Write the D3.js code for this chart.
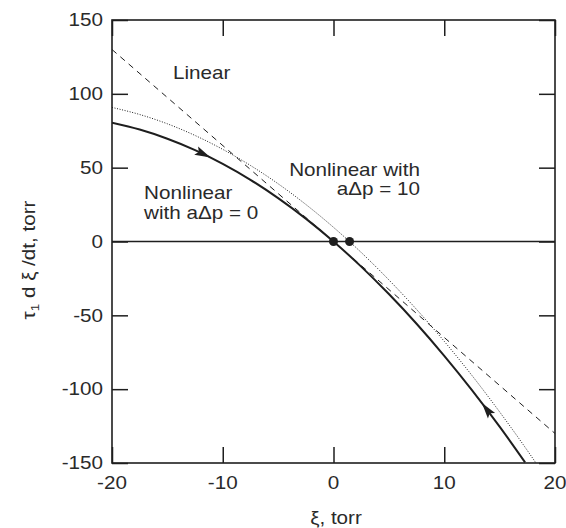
<!DOCTYPE html>
<html>
<head>
<meta charset="utf-8">
<script src="https://cdn.jsdelivr.net/npm/d3@7"></script>
<style>
  html, body { margin: 0; padding: 0; background: #fff; }
  svg { display: block; }
  text { font-family: "Liberation Sans", Arial, Helvetica, sans-serif; fill: #2a2a2a; }
</style>
</head>
<body>
<svg id="chart" width="566" height="528"></svg>
<script>
// ---- data ----
const xTicks = [-20, -10, 0, 10, 20];
const yTicks = [-150, -100, -50, 0, 50, 100, 150];

const linearX = [-20, 20];
const linearY = [130, -130];

const nonlin0X = [-20, -17.5, -15, -12.5, -10, -7.5, -5, -2.5, 0, 2.5, 5, 7.5, 10, 12.5, 15, 17.3];
const nonlin0Y = [80.4, 75.8, 69.6, 61.9, 52.6, 41.8, 29.4, 15.5, 0, -17.0, -35.6, -55.7, -77.4, -100.6, -125.4, -149.6];

const nonlin10X = [-20, -17.5, -15, -12.5, -10, -7.5, -5, -2.5, 0, 2.5, 5, 7.5, 10, 12.5, 15, 17.5, 18.3];
const nonlin10Y = [90.8, 86.0, 79.7, 71.8, 62.4, 51.5, 39.1, 25.1, 9.6, -7.4, -26.0, -46.0, -67.6, -90.7, -115.4, -141.5, -150.2];

const fixedPointX = [0, 1.45];
const fixedPointY = [0, 0];

const arrowX = [-11.1, 13.4];
const arrowDir = [1, -1];

const labels = [
  { lines: ["Linear"], x: -14.5, y: 110, anchor: "start" },
  { lines: ["Nonlinear", "with a\u0394p = 0"], x: -17.1, y: 28.5, anchor: "start" },
  { lines: ["Nonlinear with", "a\u0394p = 10"], x: 7.8, y: 44.5, anchor: "end" }
];

// ---- layout ----
const svg = d3.select("#chart");
const mL = 112, mR = 555, mT = 20, mB = 463;
const x = d3.scaleLinear().domain([-20, 20]).range([mL, mR]);
const y = d3.scaleLinear().domain([-150, 150]).range([mB, mT]);
const FS = 17.5, SX = 1.18;
const ink = "#1e1e1e";

svg.append("defs").append("clipPath").attr("id", "clip")
  .append("rect").attr("x", mL).attr("y", mT).attr("width", mR - mL).attr("height", mB - mT);

function styleAxis(g) {
  g.select(".domain").remove();
  g.selectAll(".tick line").attr("stroke", ink).attr("stroke-width", 1.5);
  g.selectAll(".tick text").remove();
}
const TL = 16;
svg.append("g").attr("transform", `translate(0,${mB})`).call(d3.axisBottom(x).tickValues(xTicks).tickSize(-TL)).call(styleAxis);
svg.append("g").attr("transform", `translate(0,${mT})`).call(d3.axisTop(x).tickValues(xTicks).tickSize(-TL)).call(styleAxis);
svg.append("g").attr("transform", `translate(${mL},0)`).call(d3.axisLeft(y).tickValues(yTicks).tickSize(-TL)).call(styleAxis);
svg.append("g").attr("transform", `translate(${mR},0)`).call(d3.axisRight(y).tickValues(yTicks).tickSize(-TL)).call(styleAxis);

// frame
svg.append("rect").attr("x", mL).attr("y", mT).attr("width", mR - mL).attr("height", mB - mT)
  .attr("fill", "none").attr("stroke", ink).attr("stroke-width", 1.6);

// stretched text helper
function sText(g, str, px, py, anchor, size) {
  return g.append("text")
    .attr("transform", `translate(${px},${py}) scale(${SX},1)`)
    .attr("text-anchor", anchor)
    .attr("font-size", size || FS)
    .text(str);
}

// tick labels
const tl = svg.append("g");
xTicks.forEach(v => sText(tl, v, x(v), mB + 26, "middle"));
yTicks.forEach(v => sText(tl, v, mL - 9, y(v) + 6.3, "end"));

// zero line
svg.append("line").attr("x1", mL).attr("x2", mR).attr("y1", y(0)).attr("y2", y(0))
  .attr("stroke", ink).attr("stroke-width", 1.5);

const plot = svg.append("g").attr("clip-path", "url(#clip)");
const line = d3.line().x(d => x(d[0])).y(d => y(d[1])).curve(d3.curveMonotoneX);

plot.append("path").datum(d3.zip(linearX, linearY)).attr("d", line)
  .attr("fill", "none").attr("stroke", ink).attr("stroke-width", 1).attr("stroke-dasharray", "6,5");
plot.append("path").datum(d3.zip(nonlin10X, nonlin10Y)).attr("d", line)
  .attr("fill", "none").attr("stroke", ink).attr("stroke-width", 1).attr("stroke-dasharray", "1,1.6");
const solid = plot.append("path").datum(d3.zip(nonlin0X, nonlin0Y)).attr("d", line)
  .attr("fill", "none").attr("stroke", ink).attr("stroke-width", 2);

// arrows on the solid curve
const node = solid.node();
const total = node.getTotalLength();
function lenAtX(px) {
  let lo = 0, hi = total;
  for (let i = 0; i < 40; i++) {
    const mid = (lo + hi) / 2;
    if (node.getPointAtLength(mid).x < px) lo = mid; else hi = mid;
  }
  return (lo + hi) / 2;
}
arrowX.forEach((ax, i) => {
  const L = lenAtX(x(ax));
  const tip = node.getPointAtLength(L);
  const back = node.getPointAtLength(L - arrowDir[i] * 16);
  const dx = tip.x - back.x, dy = tip.y - back.y, n = Math.hypot(dx, dy);
  const ux = dx / n, uy = dy / n;
  const hw = 4.5;
  const pts = [[tip.x, tip.y],
    [back.x - uy * hw, back.y + ux * hw],
    [back.x + ux * 3, back.y + uy * 3],
    [back.x + uy * hw, back.y - ux * hw]];
  plot.append("path").attr("d", "M" + pts.map(p => p.join(",")).join("L") + "Z").attr("fill", ink);
});

// fixed points
svg.selectAll("circle.fp").data(d3.zip(fixedPointX, fixedPointY)).join("circle")
  .attr("cx", d => x(d[0])).attr("cy", d => y(d[1])).attr("r", 4.5).attr("fill", ink);

// in-plot labels
labels.forEach(l => {
  l.lines.forEach((s, j) => sText(svg, s, x(l.x), y(l.y) + j * 19.3, l.anchor));
});

// axis titles
const xt = svg.append("text").attr("transform", `translate(336,524) scale(${SX},1)`)
  .attr("text-anchor", "middle").attr("font-size", FS);
xt.text("\u03BE, torr");

const yt = svg.append("text").attr("transform", `translate(35,260) rotate(-90) scale(${SX},1)`)
  .attr("text-anchor", "middle").attr("font-size", FS);
yt.append("tspan").text("\u03C4");
yt.append("tspan").attr("font-size", FS * 0.65).attr("dy", 4).text("1");
yt.append("tspan").attr("dy", -4).text(" d \u03BE /dt, torr");
</script>
</body>
</html>
